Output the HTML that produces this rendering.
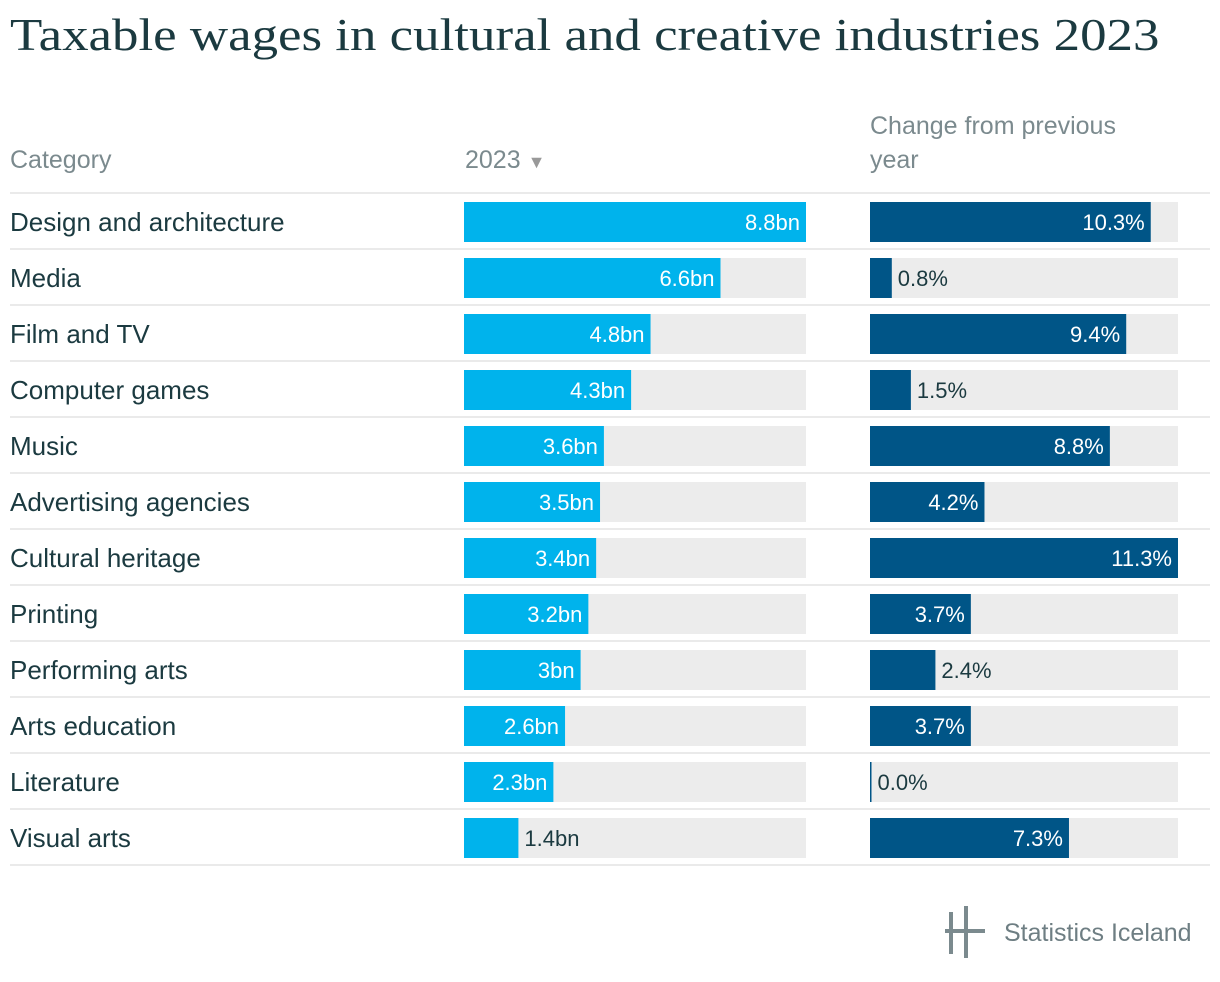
<!DOCTYPE html>
<html><head><meta charset="utf-8">
<style>
body{margin:0;width:1220px;height:982px;background:#fff;font-family:"Liberation Sans",sans-serif;position:relative;overflow:hidden}
#title{position:absolute;left:10px;top:8px;font-family:"Liberation Serif",serif;font-size:46px;color:#1b3a40;white-space:nowrap;transform:scaleX(1.15);transform-origin:0 0}
.hdr{position:absolute;color:#7b8a8e;font-size:25px;line-height:34px}
svg{position:absolute;left:0;top:0}
</style></head><body>
<div id="title">Taxable wages in cultural and creative industries 2023</div>
<div class="hdr" style="left:10px;top:143px">Category</div>
<div class="hdr" style="left:465px;top:143px">2023 <span style="font-size:18px;color:#999">▼</span></div>
<div class="hdr" style="left:870px;top:109px">Change from previous<br>year</div>
<svg id="chart" width="1220" height="982"></svg>
<script>
const categories=["Design and architecture","Media","Film and TV","Computer games","Music","Advertising agencies","Cultural heritage","Printing","Performing arts","Arts education","Literature","Visual arts"];
const wages=[8.8,6.6,4.8,4.3,3.6,3.5,3.4,3.2,3.0,2.6,2.3,1.4];
const wageLabels=["8.8bn","6.6bn","4.8bn","4.3bn","3.6bn","3.5bn","3.4bn","3.2bn","3bn","2.6bn","2.3bn","1.4bn"];
const changes=[10.3,0.8,9.4,1.5,8.8,4.2,11.3,3.7,2.4,3.7,0.0,7.3];
const changeLabels=["10.3%","0.8%","9.4%","1.5%","8.8%","4.2%","11.3%","3.7%","2.4%","3.7%","0.0%","7.3%"];
const NS="http://www.w3.org/2000/svg";
const svg=document.getElementById('chart');
const wMax=Math.max(...wages), cMax=Math.max(...changes);
const xW=v=>v/wMax*342, xC=v=>v/cMax*308;
function mk(t,a){const e=document.createElementNS(NS,t);for(const k in a)e.setAttribute(k,a[k]);svg.appendChild(e);return e;}
let l=mk('line',{x1:10,x2:1210,y1:193,y2:193,stroke:'#e3e3e3','stroke-width':1.5});


function bar(x0,full,w,color,label,y,name){
  let bg=mk('rect',{x:x0,y:y+9,width:full,height:40,fill:'#ececec'});
  
  
  let r=mk('rect',{x:x0,y:y+9,width:Math.max(w,1.5),height:40,fill:color});
  
  
  const tw=label.length*13+14;
  const inside=w>tw;
  let t=mk('text',{x:inside?x0+w-6:x0+Math.max(w,1.5)+6,y:y+37,'font-size':22,fill:inside?'#fff':'#1b3a40','text-anchor':inside?'end':'start'});
  t.textContent=label;
  
  
}
categories.forEach((c,i)=>{
  const y=193+i*56;
  let t=mk('text',{x:10,y:y+38,'font-size':26,fill:'#1b3a40'});
  t.textContent=c;
  
  
  bar(464,342,xW(wages[i]),'#00b3ec',wageLabels[i],y,'wage-bar');
  bar(870,308,xC(changes[i]),'#005587',changeLabels[i],y,'change-bar');
  let ln=mk('line',{x1:10,x2:1210,y1:y+56,y2:y+56,stroke:'#e3e3e3','stroke-width':1.5});
  
  
});
let g=mk('g',{});


[[951,912,951,954],[966,906,966,958]].forEach(p=>{const e=document.createElementNS(NS,'line');e.setAttribute('x1',p[0]);e.setAttribute('y1',p[1]);e.setAttribute('x2',p[2]);e.setAttribute('y2',p[3]);e.setAttribute('stroke','#7b8a8e');e.setAttribute('stroke-width',4);g.appendChild(e);});
const hb=document.createElementNS(NS,'line');hb.setAttribute('x1',945);hb.setAttribute('x2',985);hb.setAttribute('y1',931);hb.setAttribute('y2',931);hb.setAttribute('stroke','#7b8a8e');hb.setAttribute('stroke-width',4);g.appendChild(hb);
let lt=mk('text',{x:1004,y:941,'font-size':25,fill:'#6e7e83'});
lt.textContent='Statistics Iceland';


</script>
</body></html>
